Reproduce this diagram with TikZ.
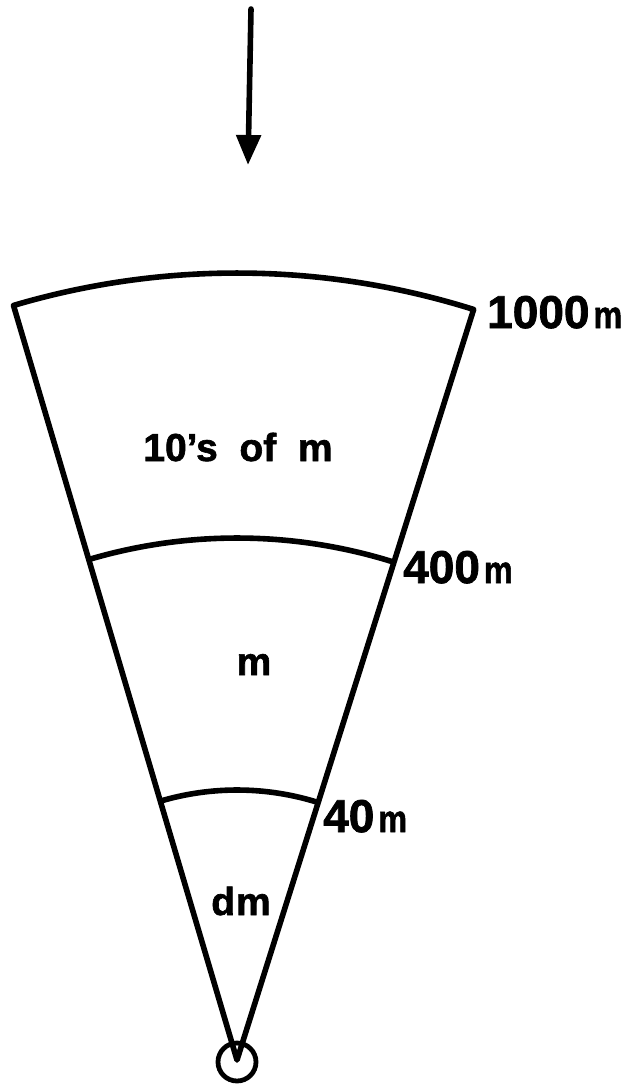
\documentclass[tikz,border=0pt]{standalone}
\usepackage{fontspec}
\setmainfont{Liberation Sans}[BoldFeatures={FakeBold=1.6}]
\usetikzlibrary{arrows.meta,calc}
\tikzset{
  fan/.style={line width=5.6pt, line join=round},
  arrowline/.style={line width=5.6pt, line cap=round, -{Triangle[length=30pt,width=24pt]}},
  dist/.style={font=\bfseries, inner sep=0pt, anchor=base west},
  zone/.style={font=\bfseries\fontsize{39}{39}\selectfont, inner sep=0pt, anchor=base},
  ring/.style={line width=4.8pt}
}
\newcommand{\dlab}[1]{{\fontsize{46}{46}\selectfont #1}\hspace{4pt}{\fontsize{38}{38}\selectfont\scalebox{0.85}[1]{m}}}
\begin{document}
\begin{tikzpicture}[x=1pt,y=1pt]
\useasboundingbox (0,0) rectangle (632,-1089);
\coordinate (apex) at (237,-1060);
% incoming arrow
\coordinate (arrowtop) at (251,-9);
\coordinate (arrowtip) at (248,-165);
\draw[arrowline] (arrowtop) -- (arrowtip);
% fan outline
\draw[fan] (apex) -- ($(apex)+(106.5:787)$) arc[start angle=106.5,end angle=72.5,radius=787] -- cycle;
% inner arcs
\draw[fan] ($(apex)+(106.5:522)$) arc[start angle=106.5,end angle=72.5,radius=522];
\draw[fan] ($(apex)+(106.5:270)$) arc[start angle=106.5,end angle=72.5,radius=270];
% circle at apex
\node[ring, draw, circle, minimum size=38pt, inner sep=0pt] (obs) at (237,-1062) {};
% zone labels
\node[zone] (z1) at (238,-461) {10’s\ \ of\ \ m};
\node[zone] (z2) at (254,-675) {m};
\node[zone] (z3) at (241,-915) {d\hspace{1pt}m};
% distance labels
\node[dist] (d1) at (487,-328) {\dlab{1000}};
\node[dist] (d2) at (403,-583) {\dlab{400}};
\node[dist] (d3) at (323,-832) {\dlab{40}};
\end{tikzpicture}
\end{document}
